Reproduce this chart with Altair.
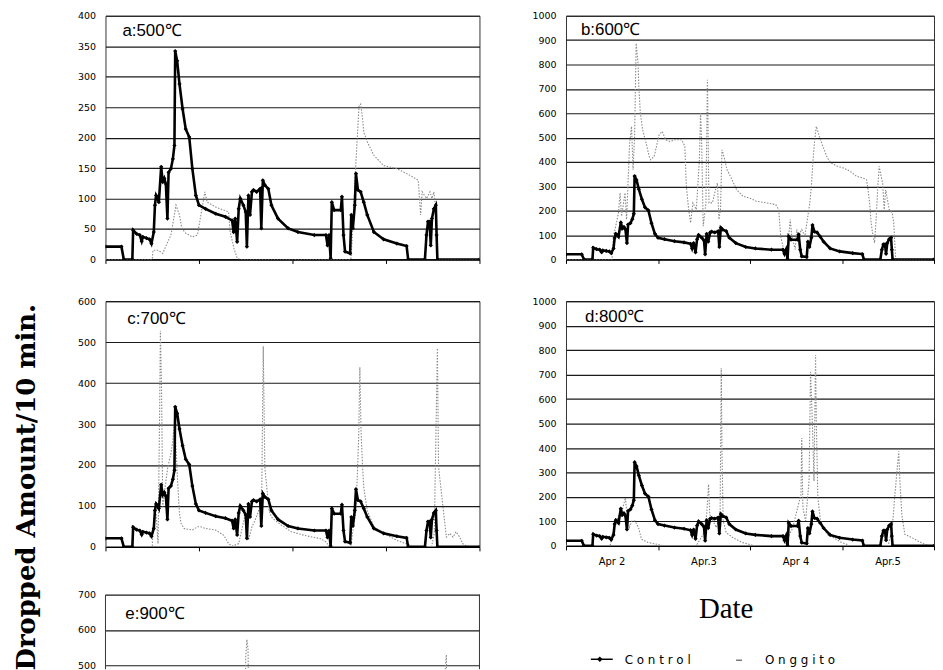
import altair as alt
import pandas as pd

# ---------------- data (hours from Apr 2 00:00, values = dropped amount / 10 min) ----------------
DAY_TICKS = [0, 24, 48, 72, 96]
DATE_LABELS = ["Apr 2", "Apr.3", "Apr 4", "Apr.5"]
DATE_LABEL_HOURS = [12, 36, 60, 84]

CTRL_H = [0, 4.1, 4.7, 6.9, 7.1, 8.0, 8.8, 9.3, 9.6, 10.5, 11.3, 11.8, 12.4, 12.7, 13.0, 13.4, 13.7,
          14.3, 14.7, 15.1, 15.5, 15.9, 16.2, 16.8, 17.3, 17.7, 17.9, 18.4, 19.0, 19.8, 20.6, 21.5,
          22.3, 23.2, 24.0, 25.7, 28.3, 30.8, 32.5, 32.9, 33.3, 33.8, 34.2, 34.6, 35.4, 36.0, 36.3,
          36.7, 37.1, 37.6, 38.0, 38.8, 39.7, 40.0, 40.4, 40.9, 41.8, 42.6, 44.3, 46.9, 49.4, 53.6,
          56.6, 57.0, 57.4, 57.8, 58.1, 58.7, 60.4, 60.7, 61.1, 61.5, 62.8, 63.1, 63.5, 64.0, 64.3,
          64.8, 65.5, 66.3, 67.2, 68.9, 71.4, 74.8, 77.3, 77.7, 82.0, 82.4, 82.8, 83.2, 83.5, 83.8,
          84.3, 84.8, 85.0, 85.2, 96]
CTRL_V = [21, 21, 0, 0, 48, 42, 40, 30, 37, 35, 33, 26, 45, 89, 105, 100, 94,
          152, 127, 133, 124, 67, 143, 149, 165, 187, 342, 326, 288, 247, 214, 201,
          149, 105, 89, 83, 75, 70, 64, 45, 67, 29, 83, 100, 89, 78, 21,
          105, 73, 111, 114, 111, 116, 51, 130, 122, 116, 89, 67, 51, 45, 40,
          40, 23, 40, 2, 94, 81, 81, 103, 40, 13, 10, 73, 51, 89, 141,
          114, 111, 94, 73, 45, 33, 26, 22, 0, 0, 40, 62, 62, 23, 67,
          83, 89, 40, 0, 0]

ONG_A_H = [0, 12.0, 12.2, 13.5, 14.7, 16.0, 16.8, 18.1, 19.0, 19.6, 20.6, 22.3, 23.6, 24.5, 25.5,
           26.1, 28.3, 31.6, 32.0, 33.0, 33.8, 34.5, 63.0, 63.4, 64.2, 65.1, 65.5, 66.0, 66.3,
           67.2, 68.9, 71.4, 74.8, 78.2, 80.3, 80.9, 81.3, 82.4, 83.3, 83.8, 84.3, 84.6, 85.0,
           85.4, 96]
ONG_A_V = [0, 0, 15, 15, 10, 29, 40, 89, 73, 51, 43, 37, 40, 73, 111,
           94, 86, 78, 45, 18, 2, 0, 0, 40, 149, 253, 255, 231, 209,
           193, 171, 154, 149, 138, 130, 73, 111, 100, 111, 100, 111, 94, 18,
           0, 0]

ONG_B_H = [0, 12.0, 12.4, 13.7, 14.1, 14.5, 15.4, 15.8, 16.6, 17.1, 17.5, 17.9, 18.3, 18.8, 19.0,
           19.4, 20.0, 20.9, 21.7, 22.1, 23.0, 23.4, 24.3, 25.1, 26.0, 27.2, 28.5, 30.2, 31.0,
           31.4, 32.0, 32.5, 33.1, 34.0, 34.8, 35.1, 35.4, 35.8, 36.5, 36.9, 37.3, 38.2, 39.0,
           39.5, 39.9, 40.3, 40.7, 41.2, 42.0, 42.9, 44.5, 46.2, 47.9, 49.6, 52.2, 54.7, 55.5,
           56.0, 56.8, 57.6, 58.5, 58.9, 59.8, 60.2, 60.6, 61.5, 62.3, 62.7, 63.6, 64.0, 64.4,
           64.8, 65.3, 66.1, 67.0, 68.2, 69.1, 70.8, 72.4, 74.1, 75.8, 77.5, 78.4, 78.8, 79.2,
           79.6, 80.1, 80.5, 80.9, 81.3, 81.7, 82.2, 82.6, 83.0, 83.4, 84.3, 85.1, 85.5, 86.0, 96]
ONG_B_V = [0, 0, 95, 191, 273, 177, 273, 164, 477, 546, 368, 505, 887, 805, 709,
           600, 532, 477, 423, 409, 423, 450, 512, 525, 491, 484, 491, 491, 464,
           300, 205, 150, 232, 205, 409, 600, 477, 136, 232, 737, 232, 232, 286,
           314, 164, 205, 450, 423, 368, 341, 286, 259, 252, 239, 232, 225, 205,
           95, 41, 14, 164, 95, 41, 123, 95, 123, 95, 136, 232, 300, 396,
           477, 546, 505, 464, 416, 396, 382, 375, 362, 341, 334, 327, 286, 232,
           150, 95, 68, 164, 286, 382, 341, 314, 205, 286, 205, 191, 150, 0, 0]

ONG_C_H = [0, 12.0, 12.2, 13.0, 13.5, 13.9, 14.1, 14.4, 14.7, 15.3, 16.0, 16.8, 17.3, 17.7, 18.1,
           18.5, 19.0, 19.4, 20.2, 22.3, 23.6, 24.5, 25.7, 28.3, 30.4, 31.6, 32.5, 34.2, 35.9,
           36.7, 37.6, 38.4, 39.7, 40.1, 40.5, 40.7, 40.9, 41.4, 42.0, 42.6, 43.5, 45.2, 47.7,
           51.1, 55.3, 56.6, 57.4, 58.0, 63.0, 63.4, 64.2, 64.6, 65.0, 65.3, 65.6, 66.0, 66.3,
           67.2, 68.9, 71.4, 74.8, 78.2, 78.6, 83.7, 84.4, 85.2, 85.5, 87.5, 88.4, 89.2, 90.0,
           90.9, 91.7, 92.6, 93.0, 96]
ONG_C_V = [0, 0, 41, 81, 8, 325, 528, 382, 98, 146, 195, 228, 260, 309, 244,
           163, 81, 57, 45, 41, 49, 49, 45, 41, 28, 8, 2, 8, 81,
           16, 49, 65, 98, 122, 490, 350, 195, 146, 89, 73, 65, 53, 37,
           28, 20, 12, 2, 0, 0, 33, 81, 163, 268, 439, 285, 195, 146,
           89, 49, 33, 16, 4, 0, 0, 33, 485, 195, 24, 33, 24, 37,
           24, 8, 2, 0, 0]

ONG_D_H = [0, 11.5, 12.1, 12.9, 13.8, 14.6, 15.5, 15.9, 16.5, 17.2, 18.0, 18.9, 19.7, 21.4, 24.8,
           25.5, 33.5, 34.2, 35.8, 36.7, 37.2, 37.5, 39.2, 40.2, 40.5, 40.7, 41.0, 41.8, 43.5,
           46.0, 48.6, 49.5, 57.0, 58.3, 59.2, 60.0, 61.3, 61.5, 61.8, 62.5, 63.4, 63.8, 64.2,
           64.7, 65.1, 65.3, 65.7, 66.4, 68.1, 69.7, 71.9, 73.2, 74.0, 84.0, 85.0, 85.4, 85.8,
           86.8, 87.1, 87.6, 88.4, 90.2, 91.8, 93.5, 94.5, 96]
ONG_D_V = [0, 0, 47, 88, 129, 142, 197, 129, 75, 102, 102, 75, 27, 14, 3,
           0, 0, 7, 47, 129, 251, 129, 75, 129, 726, 373, 102, 54, 34,
           14, 3, 0, 0, 47, 75, 129, 210, 441, 156, 102, 265, 712, 536,
           265, 780, 509, 197, 102, 47, 34, 14, 7, 0, 0, 61, 129, 210,
           387, 265, 129, 47, 34, 20, 7, 0, 0]

ONG_E_H = [0, 12.0, 14.0, 16.0, 24.0, 34.0, 35.8, 36.0, 36.3, 36.6, 37.0, 48.0, 58.0, 64.5, 70.0,
           84.0, 87.5, 88.0, 92.0, 96]
ONG_E_V = [0, 0, 120, 80, 40, 20, 150, 521, 573, 544, 150, 30, 0, 120, 40,
           30, 530, 60, 10, 0]

PANEL_TITLES = ["a:500℃", "b:600℃", "c:700℃", "d:800℃", "e:900℃"]

LABEL_FONT = "DejaVu Sans"
XSCALE = alt.Scale(domain=[0, 96], nice=False, zero=False)


def panel(title, ong_h, ong_v, ymin, ymax, step, tx, ty, xaxis=True, ytop=None):
    ctrl = pd.DataFrame({"h": CTRL_H, "v": CTRL_V})
    ong = pd.DataFrame({"h": ong_h, "v": ong_v})
    if xaxis:
        xax = alt.Axis(values=DAY_TICKS, labels=False, ticks=True, tickSize=4,
                       domain=True, grid=False, title=None)
    else:
        xax = None
    top = ymax if ytop is None else ytop
    yvals = [v for v in range(ymax, ymin - 1, -step) if v >= ymin]
    x = alt.X("h:Q", scale=XSCALE, axis=xax)
    y = alt.Y("v:Q", scale=alt.Scale(domain=[ymin, top], nice=False, zero=False),
              axis=alt.Axis(values=yvals, title=None, grid=True, ticks=False, domain=False,
                            labelPadding=10, format="d"))
    ong_line = alt.Chart(ong).mark_line(color="#8a8a8a", strokeWidth=1.1,
                                        strokeDash=[1.5, 1.5], clip=True).encode(x=x, y=y)
    ctrl_line = alt.Chart(ctrl).mark_line(color="black", strokeWidth=2.6,
                                          clip=True).encode(x=x, y=y)
    ctrl_pts = alt.Chart(ctrl).mark_point(shape="diamond", filled=True, color="black",
                                          size=18, opacity=1, clip=True).encode(x=x, y=y)
    lbl = alt.Chart(pd.DataFrame({"t": [title]})).mark_text(
        align="left", baseline="middle", fontSize=17, font="Liberation Sans", color="black"
    ).encode(x=alt.value(tx), y=alt.value(ty), text="t:N")
    return [ong_line, ctrl_line, ctrl_pts, lbl]


LW, RW = 376, 370

pa = alt.layer(*panel(PANEL_TITLES[0], ONG_A_H, ONG_A_V, 0, 400, 50, 17, 15)).properties(
    width=LW, height=245)

pb = alt.layer(*panel(PANEL_TITLES[1], ONG_B_H, ONG_B_V, 0, 1000, 100, 15, 14)).properties(
    width=RW, height=245)

ytitle = alt.Chart(pd.DataFrame({"t": ["Dropped Amount/10 min."]})).mark_text(
    angle=270, align="center", baseline="middle", fontSize=26,
    font="DejaVu Serif", fontWeight="bold", color="black"
).encode(x=alt.value(-79), y=alt.value(187), text="t:N")
pc = alt.layer(*panel(PANEL_TITLES[2], ONG_C_H, ONG_C_V, 0, 600, 100, 22, 18), ytitle).properties(
    width=LW, height=247)

date_lbls = alt.Chart(pd.DataFrame({"h": DATE_LABEL_HOURS, "t": DATE_LABELS})).mark_text(
    baseline="middle", fontSize=10, font=LABEL_FONT, color="black"
).encode(x=alt.X("h:Q", scale=XSCALE), y=alt.value(262), text="t:N")
date_title = alt.Chart(pd.DataFrame({"t": ["Date"]})).mark_text(
    baseline="middle", fontSize=29, font="Liberation Serif", color="black"
).encode(x=alt.value(161), y=alt.value(309), text="t:N")
leg_df = pd.DataFrame({"k": [0]})
leg_rule_c = alt.Chart(leg_df).mark_rule(color="black", strokeWidth=1.5).encode(
    x=alt.value(25), x2=alt.value(47), y=alt.value(360))
leg_pt_c = alt.Chart(leg_df).mark_point(shape="diamond", filled=True, color="black",
                                         size=30, opacity=1).encode(x=alt.value(34), y=alt.value(360))
leg_rule_o = alt.Chart(leg_df).mark_rule(color="#777", strokeWidth=1.5).encode(
    x=alt.value(171), x2=alt.value(177), y=alt.value(361))
leg_txt = alt.Chart(pd.DataFrame({"t": ["C o n t r o l", "O n g g i t o"],
                                  "px": [59, 200]})).mark_text(
    align="left", baseline="middle", fontSize=12, font=LABEL_FONT, color="black"
).encode(x=alt.X("px:Q", scale=None), y=alt.value(361), text="t:N")
pdd = alt.layer(*panel(PANEL_TITLES[3], ONG_D_H, ONG_D_V, 0, 1000, 100, 19, 16),
                date_lbls, date_title, leg_rule_c, leg_pt_c, leg_rule_o, leg_txt).properties(
    width=RW, height=246)

# panel e: frame drawn by data rules so that its top edge sits at the 700 gridline
frame_e = pd.DataFrame({"h": [0, 96], "lo": [489, 489], "hi": [700, 700]})
e_frame = alt.Chart(frame_e).mark_rule(color="#333", strokeWidth=1).encode(
    x=alt.X("h:Q", scale=XSCALE), y="lo:Q", y2="hi:Q")
pe = alt.layer(*panel(PANEL_TITLES[4], ONG_E_H, ONG_E_V, 489, 700, 100, 20, 26,
                      xaxis=False, ytop=717), e_frame).properties(
    width=LW, height=81, view=alt.ViewBackground(stroke="transparent"))

chart = alt.concat(pa, pb, pc, pdd, pe, columns=2, bounds="flush",
                   spacing=alt.RowColnumber(row=42, column=87)).properties(
    padding={"top": 0, "left": 5, "right": 0, "bottom": 0},
    background="white"
).configure_view(
    stroke="#333", strokeWidth=1
).configure_axis(
    labelFont=LABEL_FONT, labelFontSize=9.5, labelColor="black",
    gridColor="#1a1a1a", gridWidth=1.2, gridOpacity=1,
    tickColor="black", domainColor="black", domainWidth=1.2
)

chart.save("out.html", embed_options={"renderer": "svg", "actions": False})
